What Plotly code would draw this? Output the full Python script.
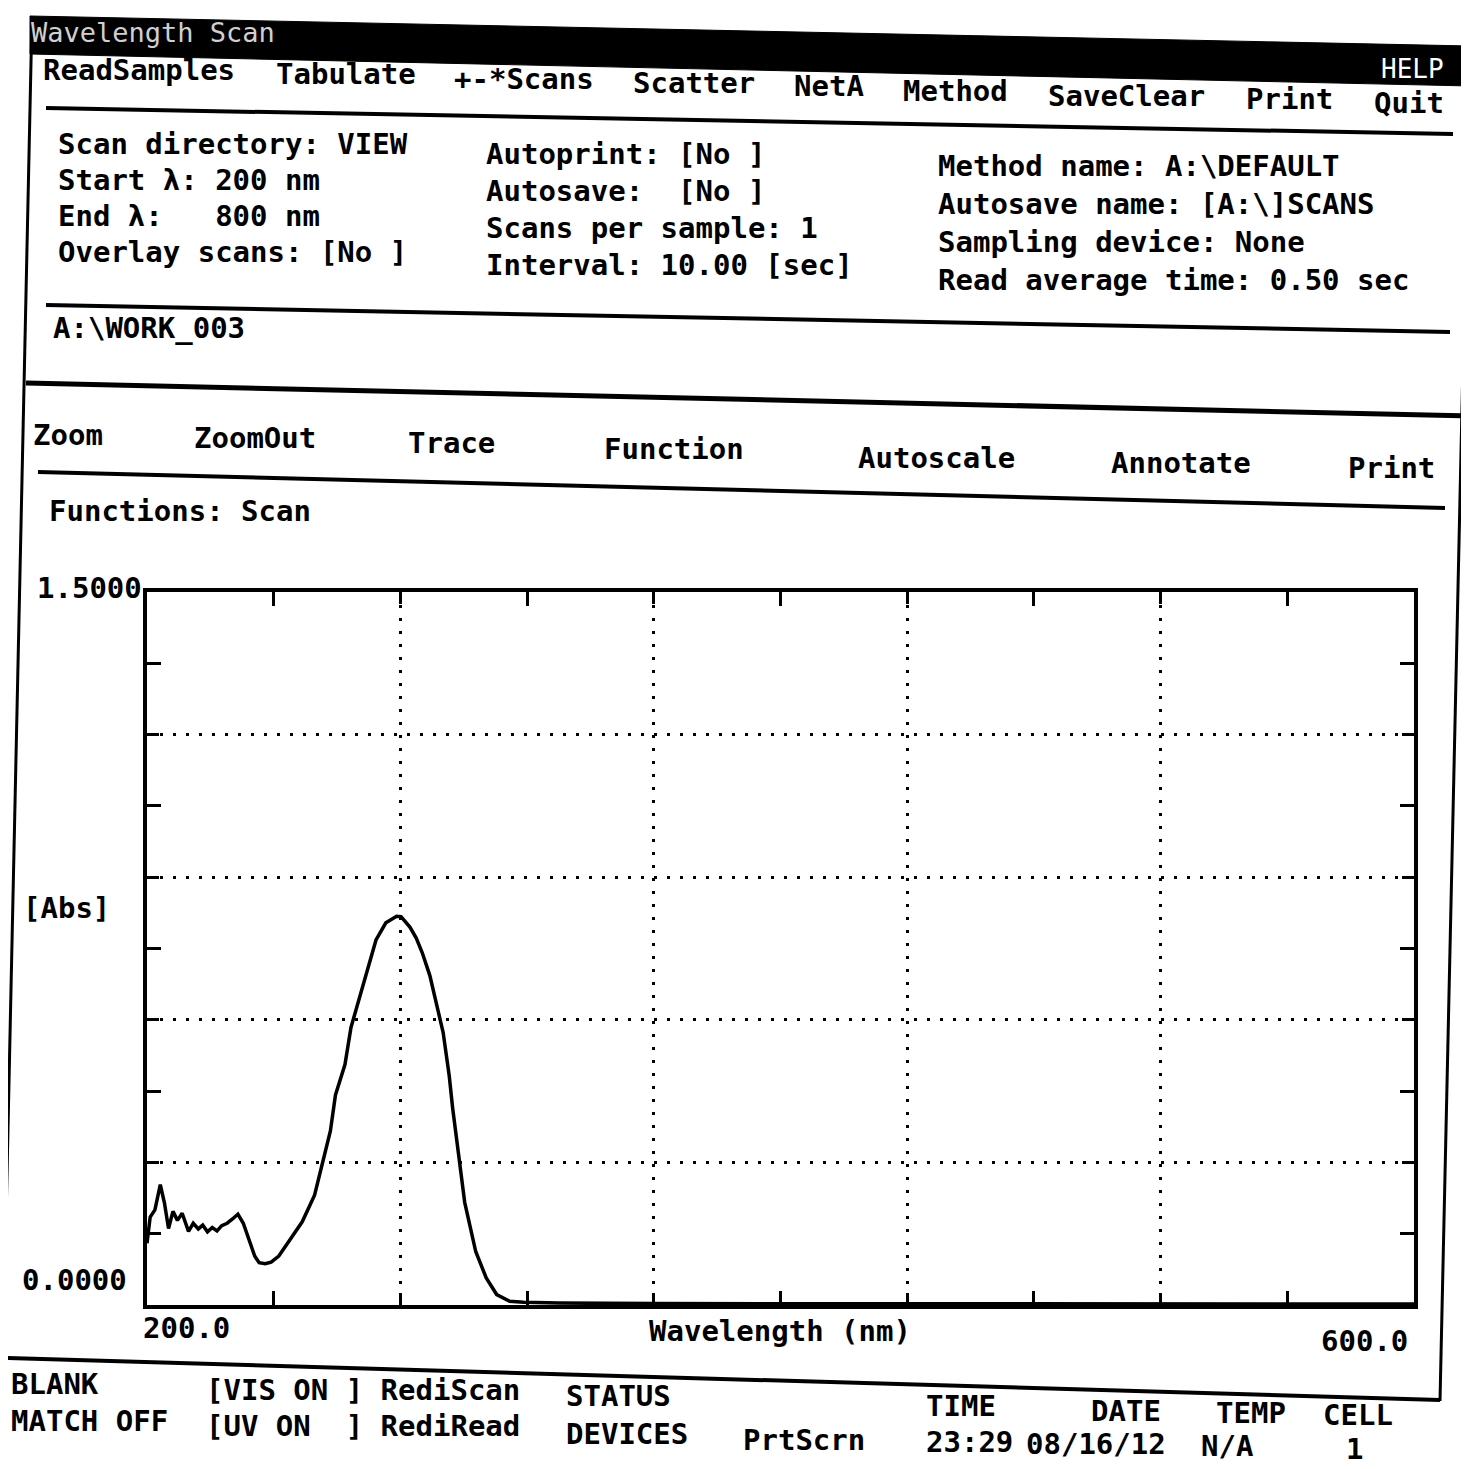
import plotly.graph_objects as go

# scan data
wavelength_nm = [200.0, 201.0, 202.5, 204.2, 205.5, 206.8, 208.2, 209.6, 211.1, 213.1,
                 214.6, 216.2, 217.6, 219.1, 220.6, 222.1, 223.6, 225.3, 227.0, 228.7,
                 230.4, 232.1, 234.0, 235.4, 237.3, 239.2, 241.6, 244.7, 249.0, 252.9,
                 255.8, 257.9, 259.5, 262.5, 264.4, 266.5, 269.4, 272.3, 275.4, 277.5,
                 278.8, 280.2, 281.0, 283.0, 285.0, 286.9, 289.3, 291.7, 293.5, 295.4,
                 296.5, 298.4, 300.3, 303.8, 307.1, 310.4, 314.5, 318.9, 330.0, 360.0,
                 400.0, 450.0, 500.0, 550.0, 600.0]
absorbance = [0.130, 0.185, 0.200, 0.253, 0.215, 0.161, 0.197, 0.178, 0.193, 0.155,
              0.172, 0.160, 0.168, 0.154, 0.163, 0.156, 0.167, 0.172, 0.181, 0.191,
              0.172, 0.137, 0.103, 0.089, 0.087, 0.090, 0.103, 0.133, 0.175, 0.231,
              0.309, 0.366, 0.442, 0.506, 0.584, 0.632, 0.696, 0.768, 0.804, 0.814,
              0.818, 0.817, 0.811, 0.795, 0.772, 0.741, 0.693, 0.623, 0.573, 0.483,
              0.414, 0.315, 0.216, 0.112, 0.057, 0.022, 0.008, 0.006, 0.004, 0.003,
              0.003, 0.002, 0.002, 0.002, 0.002]

x_range = [200.0, 600.0]
y_range = [0.0, 1.5]
x_grid = [200, 280, 360, 440, 520, 600]
x_minor = [240, 320, 400, 480, 560]
y_grid = [0.0, 0.3, 0.6, 0.9, 1.2, 1.5]
y_minor = [0.15, 0.45, 0.75, 1.05, 1.35]
x_tick_text = ["200.0", "600.0"]
y_tick_text = ["0.0000", "1.5000"]
x_title = "Wavelength (nm)"
y_title = "[Abs]"

menu_top = ["ReadSamples", "Tabulate", "+-*Scans", "Scatter", "NetA", "Method",
            "SaveClear", "Print", "Quit"]
menu_graph = ["Zoom", "ZoomOut", "Trace", "Function", "Autoscale", "Annotate", "Print"]
info_col1 = ["Scan directory: VIEW", "Start \u03bb: 200 nm", "End \u03bb:   800 nm",
             "Overlay scans: [No ]"]
info_col2 = ["Autoprint: [No ]", "Autosave:  [No ]", "Scans per sample: 1",
             "Interval: 10.00 [sec]"]
info_col3 = ["Method name: A:\\DEFAULT", "Autosave name: [A:\\]SCANS",
             "Sampling device: None", "Read average time: 0.50 sec"]

W = H = 1469
FONT = "DejaVu Sans Mono"
DX, DY = -9, -5  # annotation box padding correction


def px(x):
    return x / W


def py(y):
    return 1 - y / H


def fnt(size=29, color="black", weight="bold"):
    return dict(family=FONT, size=size, color=color, weight=weight)


def txt(s, x, y, size=29, color="black", anchor="left", weight="bold"):
    return dict(text=s, x=px(x + (DX if anchor == "left" else 0)), y=py(y + DY),
                xref="paper", yref="paper", xanchor=anchor, yanchor="middle",
                showarrow=False, font=fnt(size, color, weight))


def seg(x0, y0, x1, y1, w=4):
    return dict(type="line", xref="paper", yref="paper",
                x0=px(x0), y0=py(y0), x1=px(x1), y1=py(y1),
                line=dict(color="black", width=w))


fig = go.Figure()
fig.add_trace(go.Scatter(x=wavelength_nm, y=absorbance, mode="lines",
                         line=dict(color="black", width=3.5), showlegend=False,
                         hoverinfo="skip"))

ax = dict(showline=True, linecolor="black", linewidth=4, mirror="ticks",
          ticks="inside", ticklen=12, tickwidth=3, tickcolor="black",
          showticklabels=False, showgrid=True, gridcolor="black", gridwidth=3,
          griddash="3px,10px", zeroline=False, fixedrange=True)

fig.update_xaxes(**ax, range=x_range, tickvals=x_grid,
                 domain=[px(139), px(1406)],
                 minor=dict(tickvals=x_minor, ticks="inside", ticklen=14,
                            tickwidth=3, tickcolor="black", showgrid=False))
fig.update_yaxes(**ax, range=y_range, tickvals=y_grid,
                 domain=[py(1297), py(584)],
                 minor=dict(tickvals=y_minor, ticks="inside", ticklen=14,
                            tickwidth=3, tickcolor="black", showgrid=False))

ann = []
# title bar
ann.append(txt("Wavelength Scan", 30, 30, size=27, color="#d0d0d0", weight="normal"))
ann.append(txt("HELP", 1380, 66, size=26, color="white", weight="normal"))
# top menu
for s, x, y in zip(menu_top, [42, 275, 453, 632, 793, 902, 1047, 1245, 1373],
                   [67, 71, 76, 80, 83, 88, 93, 96, 100]):
    ann.append(txt(s, x, y))
# info block
for i, s in enumerate(info_col1):
    ann.append(txt(s, 57, 141 + 36 * i))
for i, s in enumerate(info_col2):
    ann.append(txt(s, 485, 151 + 37 * i))
for i, s in enumerate(info_col3):
    ann.append(txt(s, 937, 163 + 38 * i))
ann.append(txt("A:\\WORK_003", 52, 325))
# graph menu
for s, x, y in zip(menu_graph, [32, 193, 407, 603, 857, 1110, 1347],
                   [432, 435, 440, 446, 455, 460, 465]):
    ann.append(txt(s, x, y))
ann.append(txt("Functions: Scan", 48, 508))
# axis labels tied to the data scales
ann.append(dict(text=y_tick_text[1], x=px(136), y=y_range[1], xref="paper", yref="y",
                xanchor="right", yanchor="middle", yshift=4, showarrow=False,
                font=fnt()))
ann.append(dict(text=y_tick_text[0], x=px(121), y=y_range[0], xref="paper", yref="y",
                xanchor="right", yanchor="middle", yshift=25, showarrow=False,
                font=fnt()))
ann.append(dict(text=x_tick_text[0], x=x_range[0], y=py(1320), xref="x", yref="paper",
                xanchor="left", yanchor="middle", xshift=-6, showarrow=False,
                font=fnt()))
ann.append(dict(text=x_tick_text[1], x=x_range[1], y=py(1333), xref="x", yref="paper",
                xanchor="right", yanchor="middle", xshift=-4, showarrow=False,
                font=fnt()))
ann.append(txt(x_title, 772, 1328, anchor="center"))
ann.append(txt(y_title, 22, 905))
# status bar
status = [("BLANK", 10, 1381), ("MATCH OFF", 10, 1418),
          ("[VIS ON ] RediScan", 205, 1387), ("[UV ON  ] RediRead", 205, 1423),
          ("STATUS", 565, 1393), ("DEVICES", 565, 1431), ("PrtScrn", 742, 1437),
          ("TIME", 925, 1403), ("23:29", 925, 1439), ("DATE", 1090, 1408),
          ("08/16/12", 1025, 1441), ("TEMP", 1215, 1410), ("N/A", 1200, 1443),
          ("CELL", 1322, 1412), ("1", 1345, 1446)]
for s, x, y in status:
    ann.append(txt(s, x, y))

shapes = [
    dict(type="path", xref="paper", yref="paper",
         path=f"M {px(22)},{py(8)} L {px(1462)},{py(38)} L {px(1462)},{py(78)} "
              f"L {px(22)},{py(46)} Z",
         fillcolor="black", line=dict(color="black", width=1), layer="below"),
    seg(24, 8, -5, 1352, 3),
    seg(1462, 38, 1432, 1393, 3),
    seg(38, 100, 1445, 126),
    seg(38, 297, 1442, 324),
    seg(18, 375, 1462, 408, 5),
    seg(30, 464, 1437, 500),
    seg(0, 1350, 1432, 1392),
]

fig.update_layout(width=W, height=H, margin=dict(l=0, r=0, t=0, b=0),
                  paper_bgcolor="white", plot_bgcolor="white",
                  annotations=ann, shapes=shapes, showlegend=False)

fig.write_html("out.html")
